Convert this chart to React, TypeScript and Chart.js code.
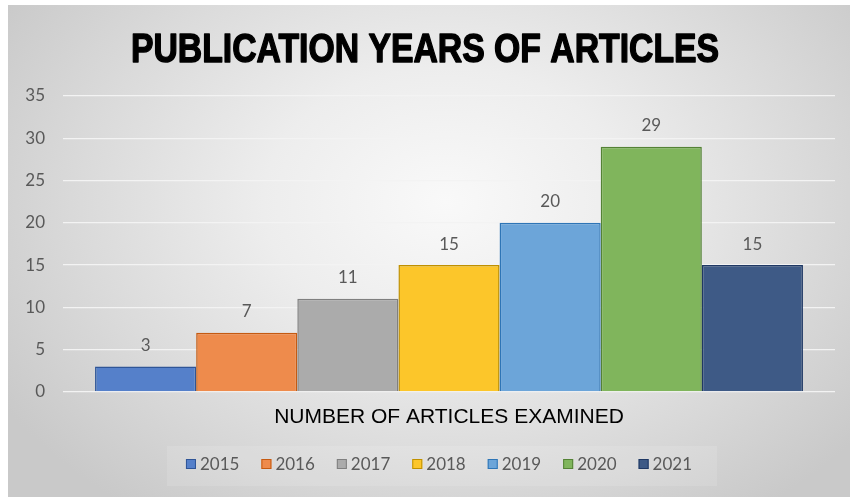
import React, { useEffect, useRef } from "react";
import { Chart, registerables } from "chart.js";

Chart.register(...registerables);

const categories = ["NUMBER OF ARTICLES EXAMINED"];
const years = ["2015", "2016", "2017", "2018", "2019", "2020", "2021"];
const counts = [3, 7, 11, 15, 20, 29, 15];
const fillColors = ["#5580CA", "#EE8B4C", "#ABABAB", "#FCC62A", "#6CA5D9", "#80B55C", "#3E5A86"];
const borderColors = ["#2F5597", "#C55A11", "#7F7F7F", "#BF9000", "#2E75B6", "#548235", "#1F3864"];
const yTicks = [0, 5, 10, 15, 20, 25, 30, 35];
const titleText = "PUBLICATION YEARS OF ARTICLES";

const LABEL_FONT = "17px Lato, 'Open Sans', sans-serif";
const GRAY = "#595959";

const titlePlugin = {
  id: "narrowTitle",
  afterDraw(chart: any) {
    const ctx = chart.ctx;
    ctx.save();
    ctx.font = "bold 40px 'Liberation Sans', Arial, sans-serif";
    ctx.fillStyle = "#000000";
    ctx.strokeStyle = "#000000";
    ctx.lineWidth = 1.4;
    ctx.lineJoin = "round";
    ctx.textAlign = "center";
    ctx.textBaseline = "alphabetic";
    const w = ctx.measureText(titleText).width;
    const target = 588;
    const sx = target / w;
    ctx.translate(417, 57);
    ctx.scale(sx, 1);
    ctx.fillText(titleText, 0, 0);
    ctx.strokeText(titleText, 0, 0);
    ctx.restore();
  },
};

const dataLabelPlugin = {
  id: "dataLabels",
  afterDatasetsDraw(chart: any) {
    const ctx = chart.ctx;
    ctx.save();
    ctx.font = LABEL_FONT;
    ctx.fillStyle = GRAY;
    ctx.textAlign = "center";
    ctx.textBaseline = "middle";
    chart.data.datasets.forEach((ds: any, i: number) => {
      const meta = chart.getDatasetMeta(i);
      meta.data.forEach((bar: any, j: number) => {
        ctx.fillText(String(ds.data[j]), bar.x, bar.y - 21);
      });
    });
    ctx.restore();
  },
};

const legendPlugin = {
  id: "customLegend",
  afterDraw(chart: any) {
    const ctx = chart.ctx;
    ctx.save();
    ctx.fillStyle = "rgba(255,255,255,0.12)";
    ctx.fillRect(159, 441, 550, 40);
    ctx.font = LABEL_FONT;
    const box = 10;
    const gap = 4;
    const spacing = 22;
    const widths = chart.data.datasets.map((ds: any) => box + gap + ctx.measureText(ds.label).width);
    const total = widths.reduce((a: number, b: number) => a + b, 0) + spacing * (widths.length - 1);
    let x = 431 - total / 2;
    const y = 459;
    ctx.textBaseline = "middle";
    ctx.textAlign = "left";
    chart.data.datasets.forEach((ds: any, i: number) => {
      ctx.fillStyle = ds.backgroundColor;
      ctx.fillRect(x, y - box / 2, box, box);
      ctx.strokeStyle = ds.borderColor;
      ctx.lineWidth = 1;
      ctx.strokeRect(x + 0.5, y - box / 2 + 0.5, box - 1, box - 1);
      ctx.fillStyle = GRAY;
      ctx.fillText(ds.label, x + box + gap, y + 1);
      x += widths[i] + spacing;
    });
    ctx.restore();
  },
};

export default function App() {
  const ref = useRef<HTMLCanvasElement | null>(null);
  useEffect(() => {
    if (!ref.current) return;
    const chart = new Chart(ref.current, {
      type: "bar",
      data: {
        labels: categories,
        datasets: years.map((y, i) => ({
          label: y,
          data: [counts[i]],
          backgroundColor: fillColors[i],
          borderColor: borderColors[i],
          borderWidth: 1.5,
          categoryPercentage: 0.917,
          barPercentage: 1,
        })),
      },
      options: {
        responsive: false,
        animation: false,
        layout: { padding: { left: 7, right: 15, top: 91, bottom: 62 } },
        plugins: {
          legend: { display: false },
          tooltip: { enabled: false },
          title: { display: false },
        },
        scales: {
          x: {
            grid: { display: false },
            border: { display: false },
            ticks: {
              color: "#000000",
              font: { family: "'Liberation Sans', Arial, sans-serif", size: 21 },
              padding: 5,
            },
          },
          y: {
            min: 0,
            max: 35,
            afterFit: (scale: any) => {
              scale.width = 48;
            },
            afterBuildTicks: (scale: any) => {
              scale.ticks = yTicks.map((v) => ({ value: v }));
            },
            grid: { color: "#f3f3f3", lineWidth: 1.2, drawTicks: false },
            border: { display: false },
            ticks: {
              color: GRAY,
              font: { family: "Lato, 'Open Sans', sans-serif", size: 17 },
              padding: 18,
            },
          },
        },
      },
      plugins: [titlePlugin, dataLabelPlugin, legendPlugin],
    });
    return () => chart.destroy();
  }, []);

  return (
    <div
      style={{
        position: "absolute",
        left: 8,
        top: 5,
        width: 842,
        height: 492,
        background:
          "radial-gradient(ellipse 62% 78% at 52% 40%, #f9f9f9 0%, #ededed 35%, #dadada 70%, #c9c9c9 100%)",
      }}
    >
      <canvas ref={ref} width={842} height={492} />
    </div>
  );
}
